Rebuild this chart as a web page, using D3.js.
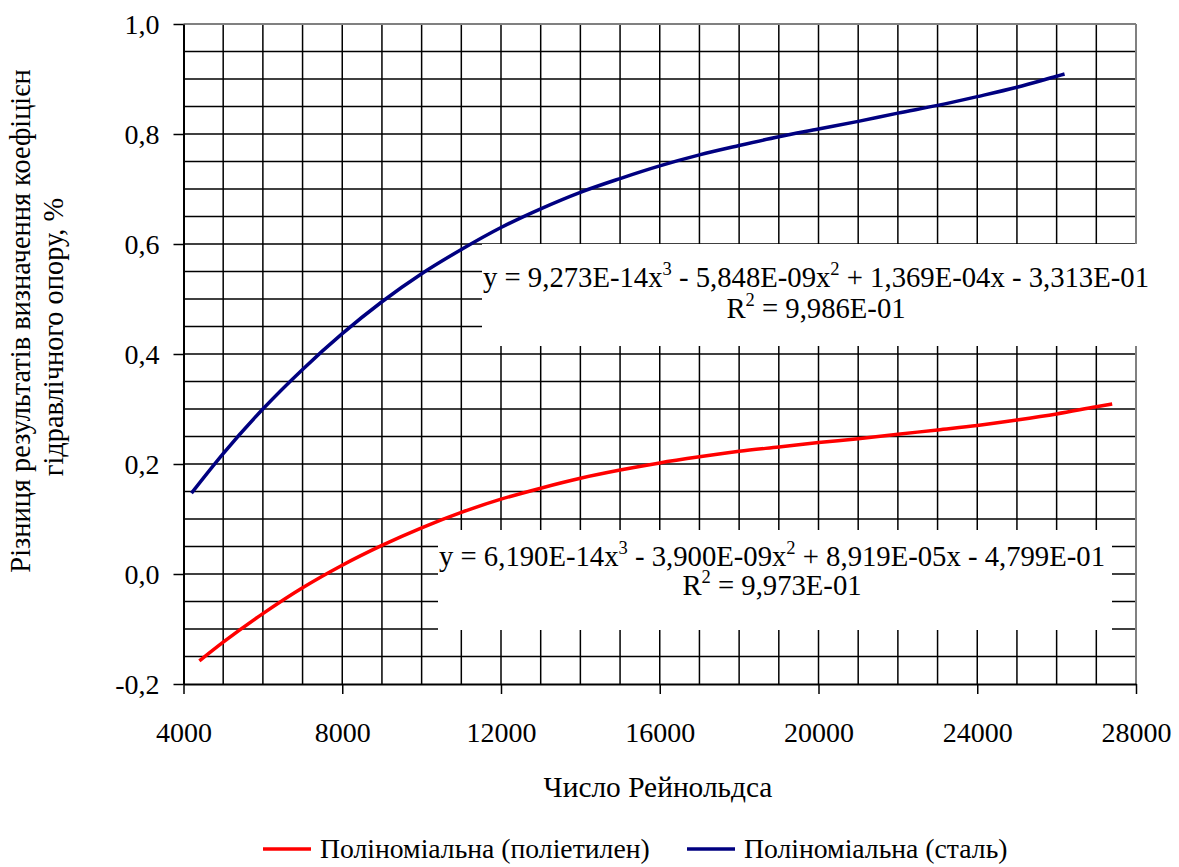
<!DOCTYPE html>
<html>
<head>
<meta charset="utf-8">
<script src="https://cdn.jsdelivr.net/npm/d3@7"></script>
<style>
body{margin:0;background:#fff;}
</style>
</head>
<body>
<script>

// числа Рейнольдса та значення
var steelRe=[4200,5000,6000,7000,8000,9000,10000,11000,12000,13000,14000,15000,16000,17000,18000,19000,20000,21000,22000,23000,24000,25000,26000,26200];
var steelVal=[0.147,0.219,0.300,0.372,0.437,0.495,0.546,0.590,0.630,0.664,0.694,0.719,0.742,0.762,0.779,0.795,0.809,0.823,0.838,0.852,0.868,0.885,0.905,0.909];

var polyRe=[4400,5000,6000,7000,8000,9000,10000,11000,12000,13000,14000,15000,16000,17000,18000,19000,20000,21000,22000,23000,24000,25000,26000,27000,27400];
var polyVal=[-0.158,-0.124,-0.072,-0.025,0.016,0.052,0.084,0.112,0.136,0.156,0.174,0.189,0.202,0.213,0.223,0.231,0.239,0.246,0.254,0.262,0.270,0.280,0.291,0.304,0.309];

var xTicks=[4000,8000,12000,16000,20000,24000,28000];
var yTicks=[-0.2,0,0.2,0.4,0.6,0.8,1.0];

var seriesNames=["Поліноміальна (поліетилен)","Поліноміальна (сталь)"];
var seriesColors=["#ff0000","#000080"];

var eqSteel=["y = 9,273E-14x","3"," - 5,848E-09x","2"," + 1,369E-04x - 3,313E-01"];
var r2Steel="9,986E-01";
var eqPoly=["y = 6,190E-14x","3"," - 3,900E-09x","2"," + 8,919E-05x - 4,799E-01"];
var r2Poly="9,973E-01";

var FONT="Times New Roman";
var W=1179,H=867;
var svg=d3.select("body").append("svg").attr("width",W).attr("height",H);

var x=d3.scaleLinear().domain([4000,28000]).range([183.5,1136]);
var y=d3.scaleLinear().domain([-0.2,1.0]).range([684,24]);

var fmt=function(d){return d.toFixed(1).replace(".",",");};

function label(sel){ //усі підписи одним шрифтом
	return sel.attr("font-family",FONT).attr("fill","#000");
}

// сітка
var grid=svg.append("g");
grid.selectAll(".vg").data(d3.range(5000,28000,1000)).enter().append("line")
	.attr("x1",d=>x(d)).attr("x2",d=>x(d)).attr("y1",y(1)).attr("y2",y(-0.2))
	.attr("stroke","#000").attr("stroke-width",1.5);
grid.selectAll(".hg").data(d3.range(-0.15,1.0,0.05)).enter().append("line")
	.attr("x1",x(4000)).attr("x2",x(28000)).attr("y1",d=>y(d)).attr("y2",d=>y(d))
	.attr("stroke","#000").attr("stroke-width",1.5);

// верхня і права рамка сірі
svg.append("line").attr("x1",x(4000)).attr("x2",x(28000)).attr("y1",y(1)).attr("y2",y(1)).attr("stroke","#808080").attr("stroke-width",2);
svg.append("line").attr("x1",x(28000)).attr("x2",x(28000)).attr("y1",y(1)).attr("y2",y(-0.2)).attr("stroke","#808080").attr("stroke-width",2);

// осі
var xAxis=svg.append("g").attr("transform","translate(0,"+y(-0.2)+")")
	.call(d3.axisBottom(x).tickValues(xTicks).tickSize(10).tickSizeOuter(0).tickFormat(d3.format("d")));
var yAxis=svg.append("g").attr("transform","translate("+x(4000)+",0)")
	.call(d3.axisLeft(y).tickValues(yTicks).tickSize(10).tickSizeOuter(0).tickFormat(fmt));
[xAxis,yAxis].forEach(function(a){
	a.attr("font-family",FONT).attr("font-size",28);
	a.select(".domain").attr("stroke","#000").attr("stroke-width",2);
	a.selectAll(".tick line").attr("stroke","#000").attr("stroke-width",1.5);
	label(a.selectAll("text")).attr("font-size",28);
});
xAxis.selectAll("text").attr("dy",null).attr("y",58);
yAxis.selectAll("text").attr("x",-24).attr("dy","0.34em");

// білі підкладки під рівняння
svg.append("rect").attr("x",482).attr("y",244).attr("width",670).attr("height",102).attr("fill","#fff");
svg.append("rect").attr("x",438).attr("y",530).attr("width",674).attr("height",100).attr("fill","#fff");

function equation(parts,r2,cx,by,gap){
	var t=label(svg.append("text")).attr("x",cx).attr("y",by).attr("text-anchor","middle").attr("font-size",28.7);
	parts.forEach(function(p,i){
		if(i%2==1)
			t.append("tspan").attr("dy",-12).attr("font-size",18.5).text(p);
		else
			t.append("tspan").attr("dy",i>0?12:0).text(p);
	});
	var r=label(svg.append("text")).attr("x",cx).attr("y",by+gap).attr("text-anchor","middle").attr("font-size",28.7);
	r.append("tspan").text("R");
	r.append("tspan").attr("dy",-12).attr("font-size",18.5).text("2");
	r.append("tspan").attr("dy",12).text(" = "+r2);
}
equation(eqSteel,r2Steel,816,287,31);
equation(eqPoly,r2Poly,772,566,29);

// лінії
var line=d3.line().curve(d3.curveMonotoneX);
svg.append("path").attr("d",line(polyRe.map((d,i)=>[x(d),y(polyVal[i])])))
	.attr("fill","none").attr("stroke",seriesColors[0]).attr("stroke-width",3.5);
svg.append("path").attr("d",line(steelRe.map((d,i)=>[x(d),y(steelVal[i])])))
	.attr("fill","none").attr("stroke",seriesColors[1]).attr("stroke-width",3.5);

// підписи осей
label(svg.append("text")).attr("x",658).attr("y",797).attr("text-anchor","middle").attr("font-size",29.4).text("Число Рейнольдса");
label(svg.append("text")).attr("transform","translate(30,321) rotate(-90)").attr("text-anchor","middle").attr("font-size",28.4)
	.text("Різниця результатів визначення коефіцієн");
label(svg.append("text")).attr("transform","translate(63,337) rotate(-90)").attr("text-anchor","middle").attr("font-size",28.4)
	.text("гідравлічного опору, %");

// легенда
var legX=[263,687];
seriesNames.forEach(function(n,i){
	svg.append("line").attr("x1",legX[i]).attr("x2",legX[i]+48).attr("y1",849).attr("y2",849)
		.attr("stroke",seriesColors[i]).attr("stroke-width",3.5);
	label(svg.append("text")).attr("x",legX[i]+57).attr("y",858).attr("font-size",27.7).text(n);
});

</script>
</body>
</html>
